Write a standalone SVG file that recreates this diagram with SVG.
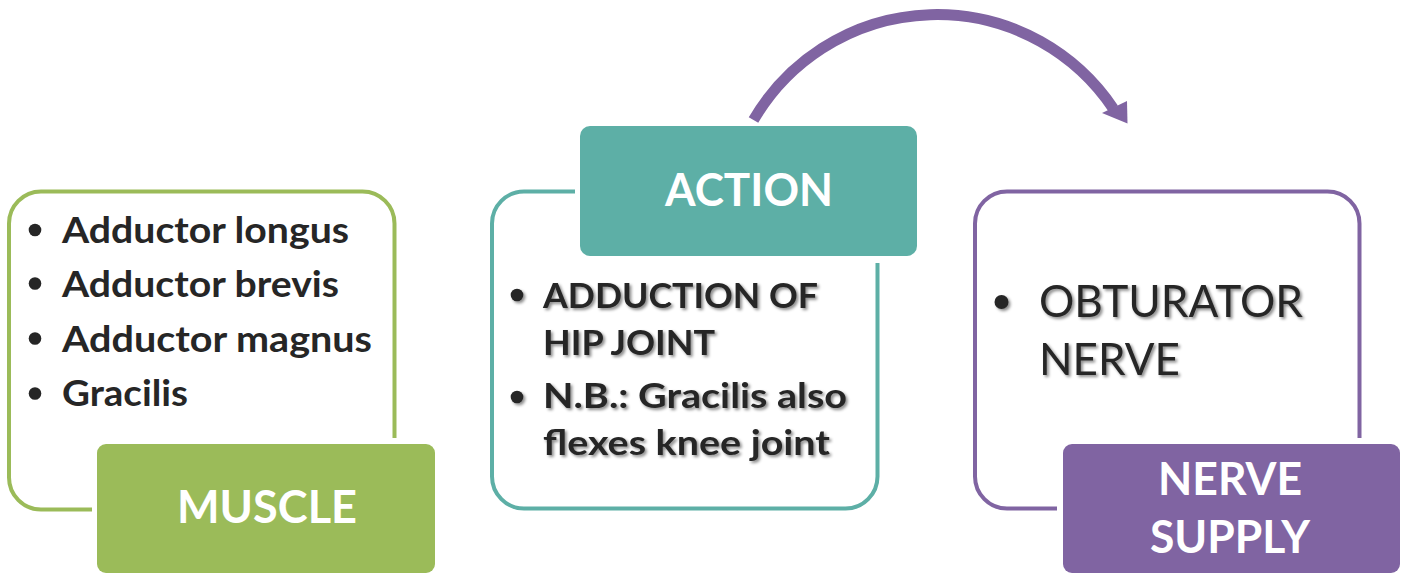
<svg xmlns="http://www.w3.org/2000/svg" width="1408" height="573" viewBox="0 0 1408 573">
<defs>
<style>
.outline{fill:none;stroke-width:4;stroke-linecap:butt}
.lbl{font-family:Lato,"Liberation Sans",sans-serif;font-weight:bold;fill:#ffffff;text-anchor:middle;font-size:45px}
.item{font-family:Lato,"Liberation Sans",sans-serif;font-weight:bold;fill:#262626;font-size:36px}
.act{font-family:Lato,"Liberation Sans",sans-serif;font-weight:bold;fill:#262626;font-size:35px}
.nrv{font-family:Lato,"Liberation Sans",sans-serif;font-weight:normal;fill:#262626;font-size:45px}
.dot{fill:#262626}
</style>
<filter id="sh" x="-10%" y="-20%" width="120%" height="140%">
<feDropShadow dx="2" dy="2" stdDeviation="1.5" flood-color="#000" flood-opacity="0.45"/>
</filter>
</defs>
<rect width="1408" height="573" fill="#ffffff"/>

<g id="connectors">
<path d="M 753.5 120 A 212.3 212.3 0 0 1 1113.3 108.6" fill="none" stroke="#8064A2" stroke-width="11"/>
<polygon points="1127,101 1127.5,123.5 1102,113" fill="#8064A2"/>
</g>

<g id="muscle">
<path class="outline" stroke="#9BBB59" d="M 394.5 438 V 223.5 A 32 32 0 0 0 362.5 191.5 H 41 A 32 32 0 0 0 9 223.5 V 477.5 A 32 32 0 0 0 41 509.5 H 92"/>
<circle class="dot" cx="35" cy="230" r="6.3"/>
<circle class="dot" cx="35" cy="283.5" r="6.3"/>
<circle class="dot" cx="35" cy="338.5" r="6.3"/>
<circle class="dot" cx="35" cy="393.5" r="6.3"/>
<text class="item" x="62" y="243" textLength="287" lengthAdjust="spacingAndGlyphs">Adductor longus</text>
<text class="item" x="62" y="297" textLength="277" lengthAdjust="spacingAndGlyphs">Adductor brevis</text>
<text class="item" x="62" y="352" textLength="310" lengthAdjust="spacingAndGlyphs">Adductor magnus</text>
<text class="item" x="62" y="406" textLength="126" lengthAdjust="spacingAndGlyphs">Gracilis</text>
<rect x="97" y="444" width="338" height="129" rx="9" fill="#9BBB59"/>
<text class="lbl" x="267" y="523" textLength="180" lengthAdjust="spacingAndGlyphs">MUSCLE</text>
</g>

<g id="action">
<path class="outline" stroke="#5DAFA6" d="M 575 191.5 H 524 A 32 32 0 0 0 492 223.5 V 476.5 A 32 32 0 0 0 524 508.5 H 845.5 A 32 32 0 0 0 877.5 476.5 V 263"/>
<rect x="580" y="126" width="337" height="130" rx="10" fill="#5DAFA6"/>
<text class="lbl" x="749" y="206" textLength="168" lengthAdjust="spacingAndGlyphs">ACTION</text>
<g filter="url(#sh)">
<circle class="dot" cx="517" cy="295" r="6.3"/>
<circle class="dot" cx="517" cy="397" r="6.3"/>
<text class="act" x="543" y="308" textLength="275" lengthAdjust="spacingAndGlyphs">ADDUCTION OF</text>
<text class="act" x="543" y="355" textLength="172" lengthAdjust="spacingAndGlyphs">HIP JOINT</text>
<text class="act" x="543" y="408" textLength="304" lengthAdjust="spacingAndGlyphs">N.B.: Gracilis also</text>
<text class="act" x="543" y="455" textLength="287" lengthAdjust="spacingAndGlyphs">flexes knee joint</text>
</g>
</g>

<g id="nerve-supply">
<path class="outline" stroke="#8064A2" d="M 1359.5 438 V 223.5 A 32 32 0 0 0 1327.5 191.5 H 1007 A 32 32 0 0 0 975 223.5 V 476.5 A 32 32 0 0 0 1007 508.5 H 1057"/>
<g filter="url(#sh)">
<circle class="dot" cx="1001.5" cy="302" r="7"/>
<text class="nrv" x="1039" y="317" textLength="264" lengthAdjust="spacingAndGlyphs">OBTURATOR</text>
<text class="nrv" x="1039" y="375" textLength="141" lengthAdjust="spacingAndGlyphs">NERVE</text>
</g>
<rect x="1063" y="444" width="337" height="129" rx="9" fill="#8064A2"/>
<text class="lbl" x="1230" y="495" textLength="144" lengthAdjust="spacingAndGlyphs">NERVE</text>
<text class="lbl" x="1230" y="553" textLength="160" lengthAdjust="spacingAndGlyphs">SUPPLY</text>
</g>
</svg>
